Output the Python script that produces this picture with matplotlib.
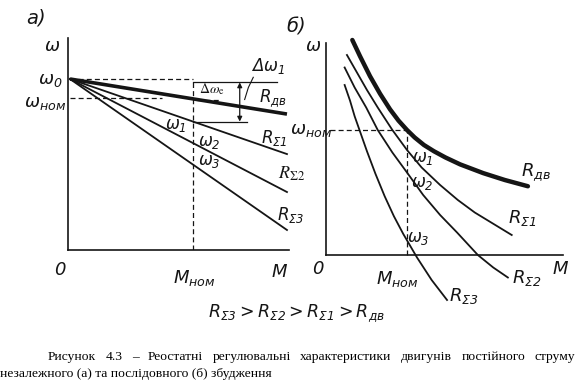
import matplotlib
matplotlib.use("Agg")
import matplotlib.pyplot as plt

plt.rcParams['mathtext.fontset'] = 'custom'
plt.rcParams['mathtext.rm'] = 'DejaVu Sans:italic'
plt.rcParams['mathtext.it'] = 'DejaVu Sans:italic'
plt.rcParams['mathtext.sf'] = 'DejaVu Sans:italic'

INK = '#151515'

# ---- panel a): independent excitation, straight lines from w0 ----
# torque in units of M_nom, speed in units of w0
m_a = [0.0, 1.764]
w_dv = [1.0, 0.795]
w_r1 = [1.0, 0.561]
w_r2 = [1.0, 0.339]
w_r3 = [1.0, 0.117]
w_nom_a = 0.89
w1_a = 0.751

# ---- panel b): series excitation ----
# torque in units of M_nom, speed in units of w_nom
m_dv = [0.29, 0.39, 0.52, 0.65, 0.78, 0.89, 1.0, 1.10, 1.22, 1.35, 1.50,
        1.69, 1.99, 2.27, 2.57]
w_dv_b = [1.72, 1.59, 1.43, 1.29, 1.165, 1.075, 1.0, 0.94, 0.88, 0.83, 0.78,
          0.725, 0.655, 0.60, 0.55]
m_r1 = [0.22, 0.35, 0.48, 0.62, 0.81, 1.0, 1.19, 1.43, 1.66, 1.88, 2.12, 2.36]
w_r1_b = [1.60, 1.46, 1.32, 1.18, 1.0, 0.84, 0.70, 0.56, 0.44, 0.34, 0.25, 0.16]
m_r2 = [0.19, 0.32, 0.47, 0.62, 0.81, 1.0, 1.21, 1.43, 1.65, 1.92, 2.12, 2.31]
w_r2_b = [1.50, 1.34, 1.18, 1.0, 0.82, 0.66, 0.48, 0.32, 0.18, 0.0, -0.10, -0.18]
m_r3 = [0.19, 0.26, 0.32, 0.40, 0.48, 0.59, 0.71, 0.83, 0.95, 1.13, 1.32, 1.52]
w_r3_b = [1.36, 1.235, 1.11, 0.97, 0.83, 0.65, 0.47, 0.31, 0.17, -0.02, -0.20, -0.36]

W, H = 576, 384
fig = plt.figure(figsize=(5.76, 3.84), dpi=100)


def px_axes(x0, xl, y0, yl, sx, sy):
    # place axes so that data (0,0) lands on pixel (x0, y0)
    left = x0 + xl[0] * sx
    width = (xl[1] - xl[0]) * sx
    bottom = y0 - yl[0] * sy
    height = (yl[1] - yl[0]) * sy
    ax = fig.add_axes([left / W, 1 - bottom / H, width / W, height / H])
    ax.set_xlim(*xl)
    ax.set_ylim(*yl)
    ax.set_xticks([])
    ax.set_yticks([])
    ax.patch.set_alpha(0)
    for s in ['top', 'right']:
        ax.spines[s].set_visible(False)
    for s in ['left', 'bottom']:
        ax.spines[s].set_color(INK)
        ax.spines[s].set_linewidth(1.2)
    return ax


def label(x, y, s, size=12, **kw):
    kw.setdefault('style', 'italic')
    fig.text(x / W, 1 - y / H, s, fontsize=size, color=INK,
             ha='center', va='center', **kw)


# panel a
axa = px_axes(70, (-0.02, 1.80), 250, (0, 1.25), 123, 171)
axa.spines['bottom'].set_bounds(-0.02, 1.78)
axa.spines['left'].set_bounds(0, 1.24)
axa.plot(m_a, w_dv, color=INK, lw=2.6, solid_capstyle='butt')
for w in (w_r1, w_r2, w_r3):
    axa.plot(m_a, w, color=INK, lw=1.3)
dash = dict(color=INK, lw=0.9, ls=(0, (4, 2.5)))
axa.plot([0, 1.0], [1, 1], **dash)
axa.plot([1.0, 1.68], [0.98, 0.98], color=INK, lw=0.9)
axa.plot([0, 0.75], [w_nom_a, w_nom_a], **dash)
axa.plot([1.03, 1.22], [w_nom_a - 0.01, w_nom_a - 0.01], **dash)
axa.plot([1.0, 1.0], [0, 0.99], **dash)
axa.plot([1.0, 1.44], [w1_a, w1_a], color=INK, lw=0.9)
axa.annotate('', xy=(1.38, w1_a), xytext=(1.38, 0.98),
             arrowprops=dict(arrowstyle='<|-|>', color=INK, lw=0.9,
                             mutation_scale=7, shrinkA=0, shrinkB=0))
axa.plot([1.49, 1.45, 1.42], [1.01, 0.95, 0.88], color=INK, lw=0.8)

label(36, 18, 'а)', 14)
label(52, 46, 'ω', 13)
label(50, 80, r'$\omega_{0}$', 13)
label(45, 103, r'$\omega_{ном}$', 13)
label(60, 270, '0', 13)
label(194, 278, r'$M_{ном}$', 13)
label(279, 272, 'M', 13)
label(268, 66, r'$\Delta\omega_{1}$', 12)
label(273, 98, r'$R_{дв}$', 12)
label(176, 125, r'$\omega_{1}$', 12)
label(209, 142, r'$\omega_{2}$', 12)
label(209, 161, r'$\omega_{3}$', 12)
label(274, 138, r'$R_{\Sigma 1}$', 12)
label(292, 174, r'$R_{\Sigma 2}$', 13, style='normal', math_fontfamily='stix')
label(291, 215, r'$R_{\Sigma 3}$', 12)
label(212, 89, r'$\Delta\omega_{\mathrm{e}}$', 10, style='normal', math_fontfamily='stix')

# panel b
axb = px_axes(330, (-0.05, 3.10), 255, (-0.45, 1.80), 77, 125)
axb.spines['bottom'].set_position(('data', 0))
axb.spines['bottom'].set_bounds(-0.05, 3.03)
axb.spines['left'].set_bounds(0, 1.70)
axb.plot(m_dv, w_dv_b, color=INK, lw=3.2, solid_capstyle='round',
         solid_joinstyle='round')
axb.plot(m_r1, w_r1_b, color=INK, lw=1.3)
axb.plot(m_r2, w_r2_b, color=INK, lw=1.3)
axb.plot(m_r3, w_r3_b, color=INK, lw=1.3)
axb.plot([0, 1.0], [1, 1], **dash)
axb.plot([1.0, 1.0], [0, 1], **dash)

label(296, 27, 'б)', 14)
label(313, 46, 'ω', 13)
label(311, 130, r'$\omega_{ном}$', 13)
label(318, 269, '0', 13)
label(397, 279, r'$M_{ном}$', 13)
label(560, 269, 'M', 13)
label(423, 158, r'$\omega_{1}$', 12)
label(422, 183, r'$\omega_{2}$', 12)
label(418, 238, r'$\omega_{3}$', 12)
label(536, 172, r'$R_{дв}$', 13)
label(522, 218, r'$R_{\Sigma 1}$', 13)
label(527, 278, r'$R_{\Sigma 2}$', 13)
label(464, 296, r'$R_{\Sigma 3}$', 13)

label(296, 313, r'$R_{\Sigma 3}>R_{\Sigma 2}>R_{\Sigma 1}>R_{дв}$', 12.5)

# caption, first line justified between x=48 and x=575
cap1 = 'Рисунок 4.3 – Реостатні регулювальні характеристики двигунів постійного струму'
cap2 = 'незалежного (а) та послідовного (б) збудження'
words = cap1.split(' ')
renderer = fig.canvas.get_renderer()
objs = [fig.text(0, 1 - 357 / H, wd, fontsize=9.7, family='Liberation Serif',
                 color='black', va='center') for wd in words]
widths = [o.get_window_extent(renderer).width for o in objs]
x0, x1 = 48, 575
gap = (x1 - x0 - sum(widths)) / (len(words) - 1)
x = x0
for o, wdt in zip(objs, widths):
    o.set_x(x / W)
    x += wdt + gap
fig.text(0, 1 - 374 / H, cap2, fontsize=9.7, family='Liberation Serif',
         color='black', va='center')

fig.savefig('out.png', dpi=100)
